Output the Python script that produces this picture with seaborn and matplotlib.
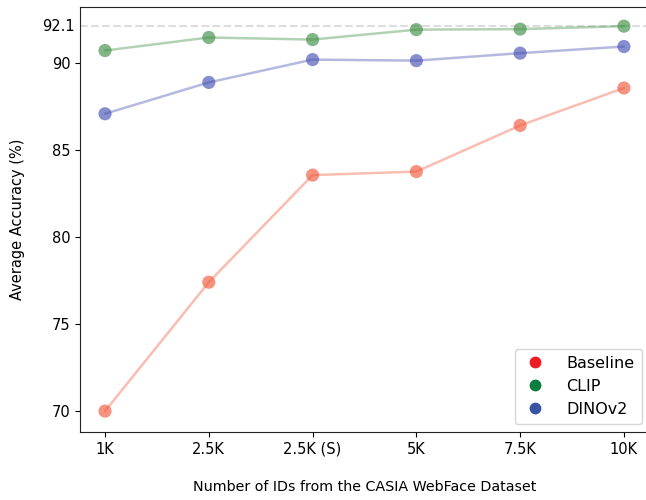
import matplotlib
matplotlib.use("Agg")
import matplotlib.pyplot as plt
import seaborn as sns
import pandas as pd
from matplotlib.lines import Line2D
from matplotlib.transforms import blended_transform_factory

categories = ["1K", "2.5K", "2.5K (S)", "5K", "7.5K", "10K"]
baseline = [70.0, 77.4, 83.55, 83.75, 86.4, 88.55]
clip = [90.7, 91.45, 91.33, 91.9, 91.93, 92.1]
dinov2 = [87.07, 88.87, 90.18, 90.12, 90.55, 90.93]
series_names = ["Baseline", "CLIP", "DINOv2"]
yticks = [70, 75, 80, 85, 90]
best_value = 92.1

plot_colors = {"Baseline": "#f05a3c", "CLIP": "#3f8f45", "DINOv2": "#4652b2"}
legend_colors = {"Baseline": "#ed1c24", "CLIP": "#0b7d3e", "DINOv2": "#3953a4"}

rows = []
for name, vals in zip(series_names, [baseline, clip, dinov2]):
    for c, v in zip(categories, vals):
        rows.append({"ids": c, "acc": v, "model": name})
df = pd.DataFrame(rows)

sns.set_style("ticks")
plt.rcParams["font.family"] = ["DejaVu Sans"]
plt.rcParams["text.color"] = "black"
plt.rcParams["axes.labelcolor"] = "black"
plt.rcParams["xtick.color"] = "black"
plt.rcParams["ytick.color"] = "black"
plt.rcParams["axes.edgecolor"] = "#222222"
fig = plt.figure(figsize=(6.46, 5.0), dpi=100)
ax = fig.add_axes([0.124, 0.136, 0.882, 0.85])
ax.spines["right"].set_visible(False)

ax.axhline(best_value, color="#dddddd", linestyle="--", linewidth=1.5, zorder=0)

sns.lineplot(data=df, x="ids", y="acc", hue="model", palette=plot_colors,
             sort=False, linewidth=1.8, alpha=0.4, legend=False, ax=ax)
sns.scatterplot(data=df, x="ids", y="acc", hue="model", palette=plot_colors,
                s=90, alpha=0.65, edgecolor=None, linewidth=0, legend=False,
                ax=ax, zorder=3)

ax.set_xlim(-0.24, 5.25)
ax.set_ylim(68.8, 93.2)
ax.set_yticks(yticks)
ax.set_yticklabels([str(t) for t in yticks], fontsize=10.5)
ax.tick_params(axis="x", labelsize=10.5)
trans = blended_transform_factory(ax.transAxes, ax.transData)
ax.text(-0.009, best_value, "92.1", transform=trans, ha="right", va="center",
        fontsize=10.5)

ax.set_xlabel("Number of IDs from the CASIA WebFace Dataset", fontsize=10.3,
              labelpad=17)
ax.set_ylabel("Average Accuracy (%)", fontsize=10.5, labelpad=19)

handles = [Line2D([0], [0], marker="o", linestyle="", markersize=8.5,
                  markerfacecolor=legend_colors[n], markeredgecolor="none",
                  label=n) for n in series_names]
ax.legend(handles=handles, loc="lower right", fontsize=11.5, frameon=True,
          handlelength=1.6, handletextpad=1.2, borderpad=0.45,
          borderaxespad=0.5)

fig.savefig("out.png", dpi=100)
